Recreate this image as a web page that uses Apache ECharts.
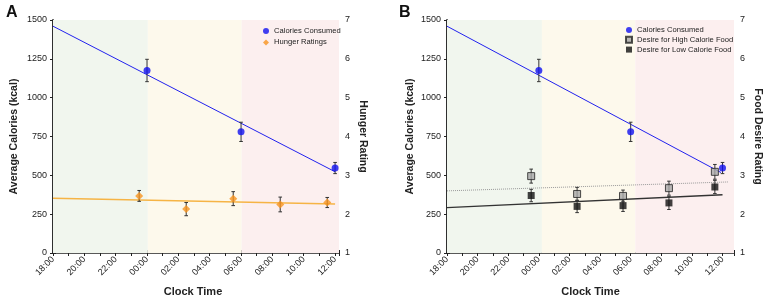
<!DOCTYPE html>
<html>
<head>
<meta charset="utf-8">
<script src="https://cdn.jsdelivr.net/npm/echarts@6/dist/echarts.min.js"></script>
<style>
  html, body { margin: 0; padding: 0; background: #fff; }
  #chart { width: 765px; height: 296px; }
</style>
</head>
<body>
<div id="chart"></div>
<script>
// hours after 18:00
const calTimes = [6, 12, 18];
const calMeans = [1175, 780, 547];
const calSem = [72, 62, 36];

const ratingTimes = [5.5, 8.5, 11.5, 14.5, 17.5];
const hungerMeans = [2.47, 2.13, 2.40, 2.25, 2.30];
const hungerSem = [0.14, 0.17, 0.18, 0.19, 0.13];

const highMeans = [2.98, 2.52, 2.47, 2.67, 3.09];
const highSem = [0.18, 0.17, 0.15, 0.18, 0.19];
const lowMeans = [2.48, 2.20, 2.22, 2.29, 2.70];
const lowSem = [0.16, 0.16, 0.15, 0.17, 0.17];

// fitted lines, end points
const fitCalA = [[0, 1460], [18, 523]];
const fitHungerA = [[0, 2.41], [18, 2.26]];
const fitCalB = [[0, 1460], [17.9, 518]];
const fitHighB = [[0, 2.60], [18.4, 2.83]];
const fitLowB = [[0, 2.17], [18, 2.50]];

// shaded periods: [start, end]
const bandsA = [[0, 6.05], [6.05, 12.04], [12.04, 18.25]];
const bandsB = [[0, 6.2], [6.2, 12.3], [12.3, 18.75]];
const bandColors = ['#f1f6ee', '#fdf9ec', '#fcefef'];

const calTicks = [0, 1500, 250];
const ratingTicks = [1, 7, 1];

const FONT = '"Liberation Sans", Arial, sans-serif';
const AXIS = '#222';

const chart = echarts.init(document.getElementById('chart'));

function clock(v) {
  const r = Math.round(v);
  if (Math.abs(v - r) > 1e-6 || r % 2) return '';
  const h = (18 + r) % 24;
  return (h < 10 ? '0' : '') + h + ':00';
}

function errData(times, means, sem) {
  return times.map((t, i) => [t, means[i] - sem[i], means[i] + sem[i]]);
}

function errRender(params, api) {
  const x = api.value(0);
  const top = api.coord([x, api.value(2)]);
  const bot = api.coord([x, api.value(1)]);
  const c = 1.8;
  const st = { stroke: '#333', lineWidth: 1 };
  return {
    type: 'group',
    children: [
      { type: 'line', shape: { x1: top[0], y1: top[1], x2: bot[0], y2: bot[1] }, style: st },
      { type: 'line', shape: { x1: top[0] - c, y1: top[1], x2: top[0] + c, y2: top[1] }, style: st },
      { type: 'line', shape: { x1: bot[0] - c, y1: bot[1], x2: bot[0] + c, y2: bot[1] }, style: st }
    ]
  };
}

function bandRender(params, api) {
  const a = api.coord([api.value(0), calTicks[1]]);
  const b = api.coord([api.value(1), calTicks[0]]);
  return {
    type: 'rect',
    shape: { x: a[0], y: a[1], width: b[0] - a[0], height: b[1] - a[1] },
    style: { fill: bandColors[params.dataIndex] }
  };
}

function xAxes(grid, max, name, nameGap, shift) {
  return [
    {
      type: 'value', gridIndex: grid, min: 0, max: max, interval: 1,
      name: name, nameLocation: 'middle', nameGap: nameGap,
      nameTextStyle: { fontFamily: FONT, fontWeight: 'bold', fontSize: 11, color: AXIS, padding: [0, shift, 0, 0] },
      axisLine: { lineStyle: { color: AXIS, width: 1.5 } },
      axisTick: { length: 3, lineStyle: { color: AXIS } },
      axisLabel: { rotate: 45, margin: 5, fontFamily: FONT, fontSize: 9, color: AXIS, formatter: clock },
      splitLine: { show: false }
    },
    {
      type: 'value', gridIndex: grid, min: 0, max: max, interval: 1, position: 'bottom',
      axisLine: { show: false },
      axisTick: { inside: true, length: 3, lineStyle: { color: AXIS } },
      axisLabel: { show: false },
      splitLine: { show: false }
    }
  ];
}

function yAxis(grid, ticks, pos, name, nameGap) {
  return {
    type: 'value', gridIndex: grid, position: pos,
    min: ticks[0], max: ticks[1], interval: ticks[2],
    name: name, nameLocation: 'middle', nameGap: nameGap,
    nameRotate: pos === 'right' ? -90 : 90,
    nameTextStyle: { fontFamily: FONT, fontWeight: 'bold', fontSize: 10.5, color: AXIS },
    axisLine: { show: true, lineStyle: { color: AXIS, width: 1.5 } },
    axisTick: { show: true, length: 3, lineStyle: { color: AXIS } },
    axisLabel: { margin: 6, fontFamily: FONT, fontSize: 9, color: AXIS, formatter: v => String(v) },
    splitLine: { show: false }
  };
}

function fitLine(name, x, y, data, color, width, type) {
  return {
    name: name, type: 'line', xAxisIndex: x, yAxisIndex: y, data: data,
    showSymbol: false, silent: true, z: 3,
    lineStyle: { color: color, width: width, type: type || 'solid' }
  };
}

function errSeries(name, x, y, data) {
  return {
    name: name, type: 'custom', xAxisIndex: x, yAxisIndex: y, data: data,
    renderItem: errRender, encode: { x: 0, y: [1, 2] }, silent: true, z: 4
  };
}

function bandSeries(name, x, y, data) {
  return {
    name: name, type: 'custom', xAxisIndex: x, yAxisIndex: y, data: data,
    renderItem: bandRender, encode: { x: [0, 1] }, silent: true, z: 1
  };
}

function dots(name, x, y, times, means, symbol, size, style) {
  return {
    name: name, type: 'scatter', xAxisIndex: x, yAxisIndex: y,
    data: times.map((t, i) => [t, means[i]]),
    symbol: symbol, symbolSize: size, itemStyle: style, z: 5
  };
}

const legendText = { fontFamily: FONT, fontSize: 7.6, color: AXIS };

chart.setOption({
  animation: false,
  backgroundColor: '#fff',
  title: [
    { text: 'A', left: 1, top: 0, textStyle: { fontFamily: FONT, fontWeight: 'bold', fontSize: 16, color: '#111' } },
    { text: 'B', left: 394, top: 0, textStyle: { fontFamily: FONT, fontWeight: 'bold', fontSize: 16, color: '#111' } }
  ],
  grid: [
    { left: 53, top: 20, width: 286, height: 233, outerBoundsMode: 'none', containLabel: false },
    { left: 447, top: 20, width: 287, height: 233, outerBoundsMode: 'none', containLabel: false }
  ],
  legend: [
    {
      orient: 'vertical', left: 258, top: 22, itemWidth: 6, itemHeight: 6, itemGap: 3.4,
      textStyle: legendText,
      data: [{ name: 'Calories Consumed', icon: 'circle' }, { name: 'Hunger Ratings', icon: 'diamond' }]
    },
    {
      orient: 'vertical', left: 620, top: 21, itemWidth: 6, itemHeight: 6, itemGap: 1.8,
      textStyle: legendText,
      data: [
        { name: 'Calories Consumed', icon: 'circle' },
        { name: 'Desire for High Calorie Food', icon: 'rect' },
        { name: 'Desire for Low Calorie Food', icon: 'rect' }
      ]
    }
  ],
  xAxis: [
    ...xAxes(0, bandsA[2][1], 'Clock Time', 33, 6),
    ...xAxes(1, bandsB[2][1], 'Clock Time', 33, 0)
  ],
  yAxis: [
    yAxis(0, calTicks, 'left', 'Average Calories (kcal)', 33),
    yAxis(0, ratingTicks, 'right', 'Hunger Rating', 18),
    yAxis(1, calTicks, 'left', 'Average Calories (kcal)', 31),
    yAxis(1, ratingTicks, 'right', 'Food Desire Rating', 18)
  ],
  series: [
    bandSeries('bandsA', 0, 0, bandsA),
    fitLine('fitCalA', 0, 0, fitCalA, '#2222ee', 1),
    fitLine('fitHungerA', 0, 1, fitHungerA, '#f6b445', 1.5),
    errSeries('errCalA', 0, 0, errData(calTimes, calMeans, calSem)),
    errSeries('errHungerA', 0, 1, errData(ratingTimes, hungerMeans, hungerSem)),
    dots('Calories Consumed', 0, 0, calTimes, calMeans, 'circle', 7, { color: '#1010f0' }),
    dots('Hunger Ratings', 0, 1, ratingTimes, hungerMeans, 'diamond', 8, { color: '#f7931e' }),

    bandSeries('bandsB', 2, 2, bandsB),
    fitLine('fitCalB', 2, 2, fitCalB, '#2222ee', 1),
    fitLine('fitHighB', 2, 3, fitHighB, '#9a9a9a', 1, 'dotted'),
    fitLine('fitLowB', 2, 3, fitLowB, '#333', 1.3),
    errSeries('errCalB', 2, 2, errData(calTimes, calMeans, calSem)),
    errSeries('errHighB', 2, 3, errData(ratingTimes, highMeans, highSem)),
    errSeries('errLowB', 2, 3, errData(ratingTimes, lowMeans, lowSem)),
    dots('Calories Consumed', 2, 2, calTimes, calMeans, 'circle', 7, { color: '#1010f0' }),
    dots('Desire for High Calorie Food', 2, 3, ratingTimes, highMeans, 'rect', 7,
      { color: '#a8a8a8', borderColor: '#222', borderWidth: 1 }),
    dots('Desire for Low Calorie Food', 2, 3, ratingTimes, lowMeans, 'rect', 7, { color: '#111' })
  ]
});
</script>
</body>
</html>
